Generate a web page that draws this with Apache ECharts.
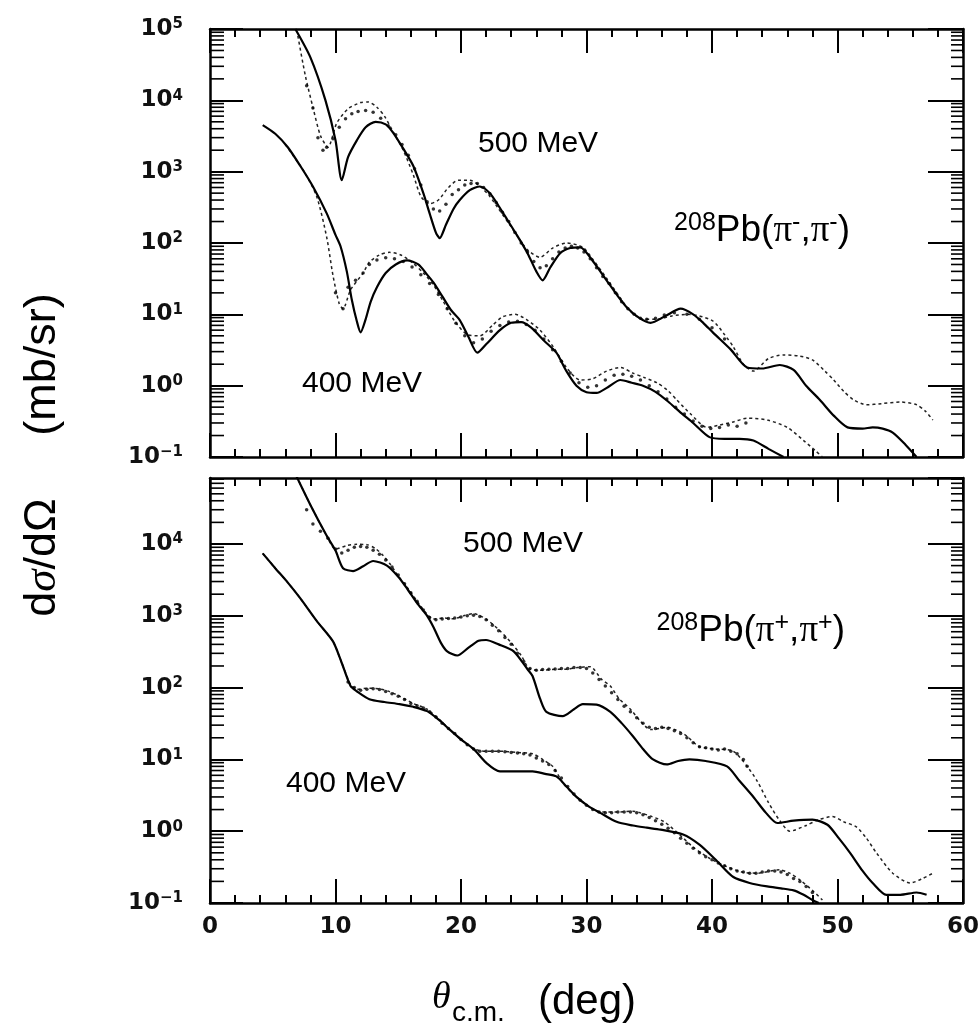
<!DOCTYPE html>
<html><head><meta charset="utf-8">
<script src="https://cdn.jsdelivr.net/npm/echarts@6/dist/echarts.min.js"></script>
<style>html,body{margin:0;padding:0;background:#fff}#c{width:978px;height:1025px}</style>
</head><body><div id="c"></div>
<script>
// ---------- axis ranges / ticks ----------
const xRange = [0, 60];
const xInterval = 10;
const yTopRange = [0.1, 100000];
const yBotRange = [0.1, 83000];
const minorTicksTop = [0.2,0.3,0.4,0.5,0.6,0.7,0.8,0.9, 2,3,4,5,6,7,8,9, 20,30,40,50,60,70,80,90,
  200,300,400,500,600,700,800,900, 2000,3000,4000,5000,6000,7000,8000,9000,
  20000,30000,40000,50000,60000,70000,80000,90000];
const minorTicksBot = [0.2,0.3,0.4,0.5,0.6,0.7,0.8,0.9, 2,3,4,5,6,7,8,9, 20,30,40,50,60,70,80,90,
  200,300,400,500,600,700,800,900, 2000,3000,4000,5000,6000,7000,8000,9000,
  20000,30000,40000,50000,60000,70000,80000];

// ---------- top panel: 208Pb(pi-,pi-) ----------
const top500Solid = [[6.8,100000],[8.0,40000],[9.2,10000],[10.0,2750],[10.5,760],[11.0,1600],[11.7,2750],[12.4,4200],[13.2,5000],[14.0,4600],[14.6,3500],[15.4,2100],[16.2,1200],[17.0,500],[17.5,260],[18.0,140],[18.3,117],[18.8,180],[19.4,300],[19.9,400],[20.7,550],[21.5,620],[22.3,500],[23.0,330],[23.7,210],[24.5,125],[25.3,72],[26.0,40],[26.5,30],[27.1,45],[27.9,72],[28.7,85],[29.5,87],[30.5,56],[31.6,30],[32.4,19],[33.2,12.6],[34.2,8.9],[35.1,7.6],[36.3,9.5],[37.5,12],[38.5,10],[39.3,7.6],[40.1,5.5],[41.5,3.2],[42.8,1.8],[44.0,1.74],[45.4,1.95],[46.5,1.66],[47.5,1.0],[48.6,0.63],[49.7,0.38],[50.8,0.26],[52.0,0.25],[52.8,0.26],[53.6,0.25],[54.4,0.22],[55.4,0.15],[56.3,0.1]];
const top500Dash = [[7.0,80000],[7.6,22000],[8.2,8000],[8.8,3200],[9.4,2200],[10.1,4800],[11.0,7600],[12.0,9300],[12.6,9500],[13.3,8000],[13.9,6000],[14.6,3600],[15.4,2000],[16.2,900],[16.8,450],[17.5,355],[18.2,400],[19.0,600],[19.8,760],[20.7,760],[21.5,630],[22.3,450],[23.0,300],[23.7,200],[24.5,125],[25.3,80],[26.3,63],[27.3,85],[28.4,100],[29.7,87],[30.6,56],[31.6,32],[32.6,18],[33.5,11],[34.5,8.5],[35.6,8.5],[36.8,9.5],[38.0,10],[39.0,9.5],[40.1,8],[41.0,5.2],[41.7,3.5],[42.5,2],[43.3,1.6],[44.5,2.4],[45.7,2.7],[47.0,2.6],[48.0,2.3],[49.0,1.6],[49.7,1.2],[50.5,0.83],[51.3,0.63],[52.3,0.54],[53.5,0.56],[55.0,0.59],[56.3,0.54],[57.0,0.44],[57.6,0.33]];
const top500Data = [[7.7,16000],[8.2,7800],[8.6,3000],[9.0,2000],[9.3,2200],[9.8,2900],[10.3,4200],[10.8,5500],[11.3,6500],[11.8,7000],[12.4,7200],[13.0,6800],[13.6,5600],[14.2,4400],[14.8,3300],[15.3,2400],[15.8,1700],[16.3,1100],[16.8,650],[17.3,380],[17.8,300],[18.3,280],[18.8,350],[19.3,480],[19.8,560],[20.3,650],[20.8,680],[21.3,680],[21.8,600],[22.3,490],[22.8,370],[23.3,270],[23.8,200],[24.3,140],[24.8,100],[25.3,75],[25.8,55],[26.3,45],[26.8,48],[27.3,60],[27.8,75],[28.3,85],[28.8,90],[29.3,85],[29.8,75],[30.3,60],[30.8,45],[31.3,34],[31.8,27],[32.3,20],[32.8,15],[33.3,12],[33.8,10],[34.3,8.8],[34.8,8.5],[35.5,8.8],[36.2,9.8],[37.0,10.5],[38.0,10],[39.0,8.5],[40.0,6.5],[41.0,4.5]];
const top400Solid = [[4.2,4500],[5.2,3400],[6.2,2200],[7.2,1200],[8.2,620],[9.3,260],[10.0,130],[10.4,90],[10.9,40],[11.3,16],[11.7,8],[12.0,5.6],[12.4,8.5],[12.8,15],[13.3,24],[14.0,38],[14.8,50],[15.7,57],[16.6,50],[17.3,36],[17.8,28],[18.5,18],[19.2,11.5],[19.9,8.3],[20.6,4.8],[21.3,2.9],[22.0,3.8],[23.1,6],[24.0,7.6],[24.8,7.8],[25.6,6.5],[26.6,4.3],[27.6,2.9],[28.4,1.6],[29.2,1.0],[30.0,0.81],[30.8,0.79],[31.7,0.95],[32.7,1.2],[33.6,1.1],[34.5,1.0],[35.5,0.82],[36.5,0.6],[37.5,0.42],[38.5,0.3],[39.8,0.19],[41.0,0.18],[42.2,0.18],[43.3,0.17],[44.5,0.13],[45.7,0.1]];
const top400Dash = [[6.0,2400],[7.5,1000],[8.5,450],[9.3,120],[9.8,35],[10.3,14],[10.6,12],[11.2,22],[12.2,38],[12.7,54],[13.5,68],[14.3,74],[15.2,68],[16.2,52],[17.0,38],[17.8,26],[18.6,15],[19.5,8],[20.5,5.2],[21.5,5.0],[22.5,7],[23.3,9.2],[24.3,10],[25.2,8.5],[26.3,6],[27.4,3.4],[28.4,1.8],[29.5,1.2],[30.5,1.25],[31.6,1.6],[32.7,1.8],[33.7,1.5],[34.6,1.3],[35.6,1.1],[36.5,0.85],[37.2,0.63],[38.3,0.4],[39.6,0.26],[40.6,0.28],[41.7,0.31],[42.8,0.35],[44.4,0.33],[46.0,0.26],[47.3,0.17],[48.3,0.12],[48.8,0.1]];
const top400Data = [[10.0,20],[10.6,12],[11.0,24],[11.6,30],[12.2,38],[12.7,50],[13.3,58],[14.0,62],[14.7,60],[15.4,55],[16.1,46],[16.8,36],[17.5,27],[18.2,19],[18.9,12],[19.6,7.5],[20.3,5],[21.0,4],[21.7,4.5],[22.4,5.8],[23.1,7],[23.8,7.8],[24.5,8],[25.2,7.2],[25.9,6],[26.6,4.5],[27.3,3.2],[28.0,2.2],[28.7,1.5],[29.4,1.1],[30.1,0.95],[30.8,1.0],[31.5,1.2],[32.2,1.4],[32.9,1.45],[33.6,1.35],[34.3,1.2],[35.0,1.0],[35.7,0.82],[36.4,0.65],[37.1,0.5],[37.8,0.4],[38.5,0.32],[39.2,0.27],[39.9,0.25],[40.6,0.26],[41.3,0.28],[42.0,0.27],[42.7,0.3]];

// ---------- bottom panel: 208Pb(pi+,pi+) ----------
const bot500Solid = [[6.9,87000],[8.0,35000],[9.3,13000],[10.0,8100],[10.6,4600],[11.4,4200],[12.2,4900],[13.0,5800],[14.1,5000],[15.0,3500],[15.7,2400],[16.5,1500],[17.3,1000],[17.8,700],[18.4,420],[18.9,320],[19.7,280],[20.6,360],[21.4,450],[22.0,460],[23.0,400],[24.2,320],[25.3,180],[25.7,145],[26.3,70],[26.8,46],[28.1,40],[29.0,50],[29.7,59],[30.8,58],[31.9,46],[32.8,32],[33.7,21],[34.5,14],[35.3,10],[36.4,8.5],[37.3,9.5],[38.2,10],[39.5,9.5],[41.2,8],[42.2,5],[43.3,3.0],[44.3,1.8],[45.2,1.3],[46.5,1.4],[48.0,1.45],[49.2,1.23],[50.1,0.8],[51.0,0.5],[52.0,0.28],[52.8,0.19],[53.9,0.13],[55.0,0.13],[56.3,0.14],[57.1,0.13]];
const bot500Dash = [[6.9,87000],[8.0,35000],[9.3,13000],[10.0,8500],[10.9,9500],[11.7,9900],[12.5,9800],[13.2,8600],[13.8,6900],[14.3,5400],[15.0,3600],[15.7,2500],[16.5,1600],[17.3,1050],[17.8,900],[18.6,930],[19.4,910],[20.2,1000],[21.0,1070],[22.0,900],[23.1,620],[24.0,420],[24.8,280],[25.5,180],[26.5,175],[27.5,180],[28.4,180],[29.3,190],[30.3,195],[31.2,130],[31.9,105],[32.6,70],[33.5,50],[34.3,34],[35.1,26],[35.8,27],[36.4,28],[37.5,24],[38.0,21],[39.0,15],[40.3,14],[41.7,13],[42.8,8],[43.6,5],[44.5,2.5],[45.4,1.4],[46.2,1.0],[47.5,1.2],[48.5,1.45],[49.6,1.6],[50.5,1.35],[51.5,1.15],[52.3,0.8],[53.1,0.5],[54.4,0.26],[55.8,0.19],[56.8,0.22],[57.6,0.26]];
const bot500Data = [[7.7,30000],[8.2,19000],[8.8,15000],[9.4,12000],[10.0,8500],[10.5,7500],[11.0,8200],[11.5,9000],[12.0,9200],[12.5,9000],[13.0,8200],[13.5,7200],[14.0,6000],[14.5,4800],[15.0,3700],[15.5,2800],[16.0,2100],[16.5,1600],[17.0,1200],[17.5,950],[18.0,880],[18.5,900],[19.0,920],[19.5,930],[20.0,960],[20.5,1000],[21.0,1020],[21.5,980],[22.0,880],[22.5,740],[23.0,620],[23.5,500],[24.0,400],[24.5,300],[25.0,230],[25.5,185],[26.0,175],[26.5,178],[27.0,180],[27.5,182],[28.0,185],[28.5,185],[29.0,190],[29.5,190],[30.0,185],[30.5,160],[31.0,130],[31.5,105],[32.0,85],[32.5,68],[33.0,55],[33.5,46],[34.0,38],[34.5,32],[35.0,28],[35.5,27],[36.0,28],[36.5,27],[37.0,25],[37.5,23],[38.0,20],[38.5,17],[39.0,15],[39.5,14.5],[40.0,14],[40.5,13.5],[41.0,14],[41.5,13],[42.0,12],[42.5,10],[42.8,8]];
const bot400Solid = [[4.2,7400],[5.2,4600],[6.2,2900],[7.2,1750],[8.5,850],[9.8,440],[10.5,220],[11.2,105],[11.7,89],[12.7,69],[13.9,63],[15.1,59],[16.2,54],[17.3,47],[18.2,36],[19.1,26],[20.0,19],[21.0,14],[22.0,9],[23.1,6.8],[24.4,6.8],[25.7,6.8],[26.7,6.3],[27.6,5.8],[28.4,4.2],[29.2,3.0],[30.2,2.2],[31.1,1.8],[32.4,1.35],[33.7,1.2],[34.8,1.12],[35.9,1.05],[37.7,0.9],[39.0,0.65],[40.3,0.4],[41.7,0.23],[43.0,0.19],[44.4,0.17],[45.5,0.16],[46.5,0.15],[47.3,0.13],[48.0,0.11],[48.5,0.1]];
const bot400Dash = [[4.2,7400],[5.2,4600],[6.2,2900],[7.2,1750],[8.5,850],[9.8,440],[10.5,220],[11.2,110],[11.7,95],[12.5,98],[13.5,96],[14.3,88],[15.1,76],[16.2,60],[17.3,50],[18.2,37],[19.1,26],[20.0,19],[21.0,14],[22.0,13],[23.1,13],[24.4,12.5],[25.7,12],[26.5,10],[27.3,8],[28.2,4.5],[29.2,3.0],[30.2,2.2],[31.1,1.85],[32.4,1.85],[33.7,1.9],[34.3,1.8],[35.2,1.6],[36.2,1.35],[37.4,0.9],[38.5,0.6],[39.8,0.42],[41.2,0.32],[42.4,0.27],[43.6,0.26],[45.4,0.29],[46.2,0.26],[47.0,0.21],[48.0,0.15],[48.8,0.11]];
const bot400Data = [[11.0,120],[11.5,100],[12.0,92],[12.5,95],[13.0,96],[13.5,94],[14.0,88],[14.5,82],[15.0,76],[15.5,68],[16.0,60],[16.5,56],[17.0,52],[17.5,46],[18.0,39],[18.5,32],[19.0,27],[19.5,23],[20.0,19],[20.5,16],[21.0,14],[21.5,13],[22.0,13],[22.5,13],[23.0,13],[23.5,12.8],[24.0,12.5],[24.5,12.3],[25.0,12],[25.5,11.5],[26.0,10.5],[26.5,9.5],[27.0,8.5],[27.5,7],[28.0,5.5],[28.5,4.2],[29.0,3.3],[29.5,2.7],[30.0,2.3],[30.5,2.0],[31.0,1.85],[31.5,1.8],[32.0,1.8],[32.5,1.85],[33.0,1.85],[33.5,1.85],[34.0,1.8],[34.5,1.7],[35.0,1.55],[35.5,1.4],[36.0,1.25],[36.5,1.1],[37.0,0.95],[37.5,0.8],[38.0,0.68],[38.5,0.58],[39.0,0.5],[39.5,0.44],[40.0,0.4],[40.5,0.36],[41.0,0.33],[41.5,0.3],[42.0,0.28],[42.5,0.27],[43.0,0.26],[43.5,0.26],[44.0,0.27],[44.5,0.28],[45.0,0.28],[45.5,0.27],[46.0,0.25],[46.5,0.22],[47.0,0.2],[47.5,0.17],[48.0,0.14]];

// ---------- text ----------
const energyLabels = ['500 MeV', '400 MeV'];

// ---------- build ----------
const BLACK = '#111';
const frame = { show: true, onZero: false, lineStyle: { color: '#000', width: 2.5 } };

function xAxis(grid, pos, labels) {
  return {
    type: 'value', gridIndex: grid, position: pos, min: xRange[0], max: xRange[1], interval: xInterval,
    axisLine: frame,
    axisTick: { show: true, inside: true, length: 24, lineStyle: { color: '#000', width: 2 } },
    minorTick: { show: true, splitNumber: 5, length: 8, lineStyle: { color: '#000', width: 2 } },
    splitLine: { show: false }, minorSplitLine: { show: false },
    axisLabel: { show: labels, margin: 13, color: BLACK, fontFamily: 'DejaVu Sans', fontWeight: 'bold', fontSize: 23 }
  };
}
function yLabel(v) {
  const l = Math.log10(v), e = Math.round(l);
  if (Math.abs(l - e) > 1e-6) return '';
  return '{b|10}{s|' + (e < 0 ? '\u2212' + (-e) : e) + '}';
}
function yAxis(grid, pos, range, labels, tickLen) {
  return {
    type: 'log', logBase: 10, gridIndex: grid, position: pos, min: range[0], max: range[1],
    axisLine: frame,
    axisTick: { show: true, inside: true, length: tickLen, lineStyle: { color: '#000', width: 2 } },
    minorTick: { show: false }, splitLine: { show: false },
    axisLabel: {
      show: labels, margin: 27, formatter: yLabel, showMaxLabel: grid === 0, showMinLabel: true,
      rich: {
        b: { fontFamily: 'DejaVu Sans', fontWeight: 'bold', fontSize: 23, color: BLACK, lineHeight: 24 },
        s: { fontFamily: 'DejaVu Sans', fontWeight: 'bold', fontSize: 15, color: BLACK, lineHeight: 15, verticalAlign: 'top' }
      }
    }
  };
}
function line(data, idx, dashed) {
  return {
    type: 'line', xAxisIndex: idx, yAxisIndex: idx, data: data, symbol: 'none', showSymbol: false,
    smooth: 0.25, clip: true, silent: true,
    lineStyle: dashed ? { color: '#222', width: 1.5, type: [3, 3] } : { color: '#000', width: 2.2 },
    z: dashed ? 3 : 4
  };
}
function dots(data, idx) {
  return {
    type: 'scatter', xAxisIndex: idx, yAxisIndex: idx, data: data, symbol: 'circle', symbolSize: 3.5,
    itemStyle: { color: '#000' }, silent: true, z: 5
  };
}
function minorTicks(vals, idx) {
  return {
    type: 'custom', xAxisIndex: idx, yAxisIndex: idx, silent: true, z: 6,
    data: vals.map(v => [xRange[0], v]), encode: { x: 0, y: 1 },
    renderItem: function (p, api) {
      const v = api.value(1);
      const a = api.coord([xRange[0], v]);
      const b = api.coord([xRange[1], v]);
      return { type: 'group', children: [
        { type: 'line', shape: { x1: a[0], y1: a[1], x2: a[0] + 14, y2: a[1] }, style: { stroke: '#000', lineWidth: 1.6 } },
        { type: 'line', shape: { x1: b[0] - 12, y1: b[1], x2: b[0], y2: b[1] }, style: { stroke: '#000', lineWidth: 1.6 } }
      ] };
    }
  };
}
function txt(x, y, text, size, align) {
  return { type: 'text', x: x, y: y, z: 20, silent: true,
    style: { text: text, fill: '#000', fontFamily: 'Liberation Sans, Arial, sans-serif', fontSize: size,
      align: align || 'left', verticalAlign: 'middle', textAlign: align || 'left', textVerticalAlign: 'middle' } };
}
function pbRich(sign) {
  return {
    text: '{sup|208}{m|Pb(}{p|\u03c0}{sup|' + sign + '}{m|,}{p|\u03c0}{sup|' + sign + '}{m|)}',
    rich: {
      m: { fontFamily: 'Liberation Sans', fontSize: 37, lineHeight: 40, fill: '#000', color: '#000' },
      p: { fontFamily: 'Liberation Serif', fontSize: 37, lineHeight: 40, fill: '#000', color: '#000' },
      sup: { fontFamily: 'Liberation Sans', fontSize: 25, lineHeight: 25, verticalAlign: 'top', fill: '#000', color: '#000' }
    }
  };
}

const chart = echarts.init(document.getElementById('c'), null, { renderer: 'canvas' });
chart.setOption({
  animation: false,
  backgroundColor: '#fff',
  grid: [
    { left: 210, top: 29, width: 753, height: 428, containLabel: false, outerBoundsMode: 'none' },
    { left: 210, top: 478, width: 753, height: 425, containLabel: false, outerBoundsMode: 'none' }
  ],
  xAxis: [xAxis(0, 'bottom', false), xAxis(0, 'top', false), xAxis(1, 'bottom', true), xAxis(1, 'top', false)],
  yAxis: [yAxis(0, 'left', yTopRange, true, 33), yAxis(0, 'right', yTopRange, false, 35),
          yAxis(1, 'left', yBotRange, true, 33), yAxis(1, 'right', yBotRange, false, 35)],
  series: [
    minorTicks(minorTicksTop, 0), minorTicks(minorTicksBot, 2),
    line(top500Solid, 0, false), line(top500Dash, 0, true), dots(top500Data, 0),
    line(top400Solid, 0, false), line(top400Dash, 0, true), dots(top400Data, 0),
    line(bot500Solid, 2, false), line(bot500Dash, 2, true), dots(bot500Data, 2),
    line(bot400Solid, 2, false), line(bot400Dash, 2, true), dots(bot400Data, 2)
  ],
  graphic: [
    txt(478, 144, energyLabels[0], 30),
    txt(302, 384, energyLabels[1], 30),
    txt(463, 544, energyLabels[0], 30),
    txt(286, 784, energyLabels[1], 30),
    { type: 'text', x: 850, y: 231, z: 20, silent: true,
      style: Object.assign({ align: 'right', verticalAlign: 'middle', textAlign: 'right', textVerticalAlign: 'middle', fill: '#000' }, pbRich('-')) },
    { type: 'text', x: 845, y: 631, z: 20, silent: true,
      style: Object.assign({ align: 'right', verticalAlign: 'middle', textAlign: 'right', textVerticalAlign: 'middle', fill: '#000' }, pbRich('+')) },
    { type: 'text', x: 43, y: 455, rotation: Math.PI / 2, z: 20, silent: true,
      style: { text: '{a|d}{i|\u03c3}{a|/d\u03a9     (mb/sr)}', align: 'center', verticalAlign: 'middle', textAlign: 'center', textVerticalAlign: 'middle',
        rich: { a: { fontFamily: 'Liberation Sans', fontSize: 45, fill: '#000', color: '#000' },
                i: { fontFamily: 'Liberation Serif', fontStyle: 'italic', fontSize: 45, fill: '#000', color: '#000' } } } },
    { type: 'text', x: 432, y: 998, z: 20, silent: true,
      style: { text: '\u03b8', fontFamily: 'Liberation Serif', fontStyle: 'italic', fontSize: 38, fill: '#000', align: 'left', verticalAlign: 'middle', textAlign: 'left', textVerticalAlign: 'middle' } },
    txt(452, 1013, 'c.m.', 28),
    txt(538, 1002, '(deg)', 42)
  ]
});
</script>
</body></html>
